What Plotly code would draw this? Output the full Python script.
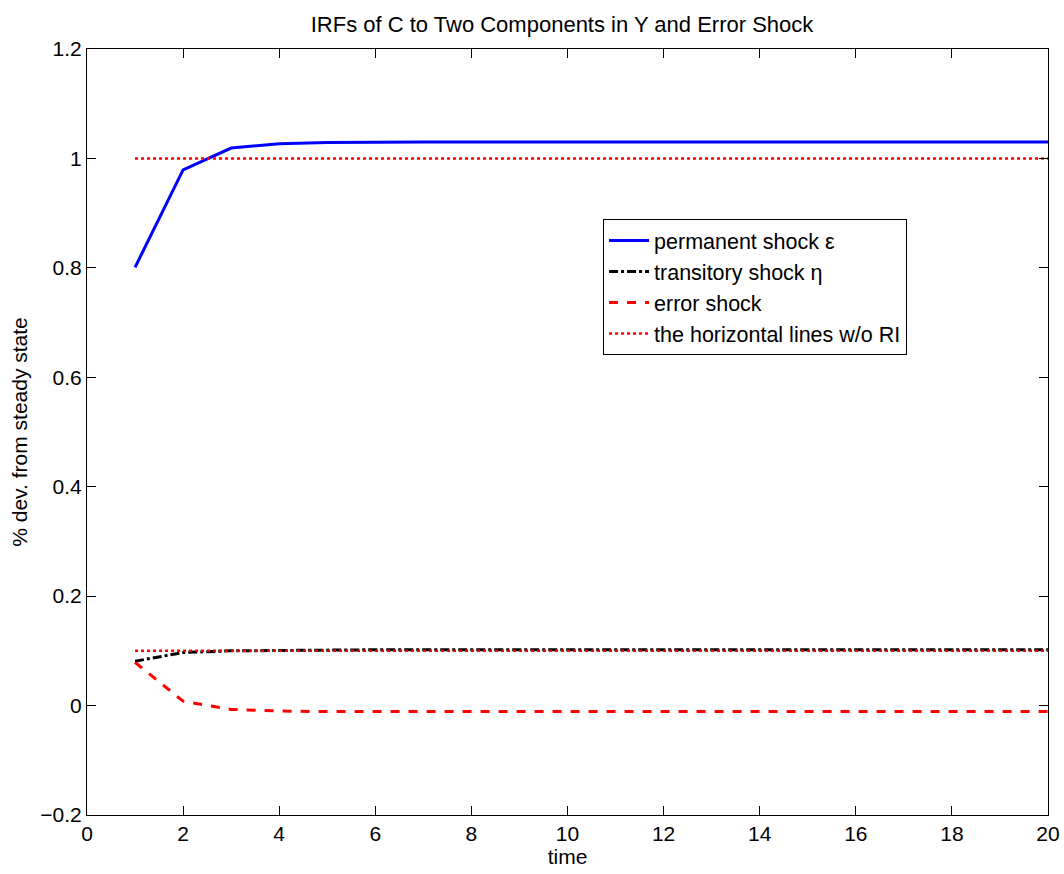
import plotly.graph_objects as go

time = list(range(1, 21))
permanent = [0.801, 0.979, 1.019, 1.027, 1.029, 1.030, 1.030, 1.030, 1.030, 1.030,
             1.030, 1.030, 1.030, 1.030, 1.030, 1.030, 1.030, 1.030, 1.030, 1.030]
transitory = [0.081, 0.097, 0.100, 0.101, 0.102, 0.102, 0.102, 0.102, 0.102, 0.102,
              0.102, 0.102, 0.102, 0.102, 0.102, 0.102, 0.102, 0.102, 0.102, 0.102]
error = [0.079, 0.008, -0.007, -0.010, -0.011, -0.011, -0.011, -0.011, -0.011, -0.011,
         -0.011, -0.011, -0.011, -0.011, -0.011, -0.011, -0.011, -0.011, -0.011, -0.011]
hline_perm = [1.0] * 20
hline_trans = [0.1] * 20

font = "Liberation Sans, Arial, Helvetica, sans-serif"

fig = go.Figure()
fig.add_trace(go.Scatter(x=time, y=permanent, mode="lines", name="permanent shock ε",
                         line=dict(color="#0000ff", width=3)))
fig.add_trace(go.Scatter(x=time, y=transitory, mode="lines", name="transitory shock η",
                         line=dict(color="black", width=3, dash="dashdot")))
fig.add_trace(go.Scatter(x=time, y=error, mode="lines", name="error shock",
                         line=dict(color="#ff0000", width=3, dash="dash")))
fig.add_trace(go.Scatter(x=time, y=hline_perm, mode="lines", name="the horizontal lines w/o RI",
                         line=dict(color="#ff0000", width=2.5, dash="dot")))
fig.add_trace(go.Scatter(x=time, y=hline_trans, mode="lines", name="the horizontal lines w/o RI",
                         showlegend=False,
                         line=dict(color="#ff0000", width=2.5, dash="dot")))

fig.update_layout(
    width=1064, height=874,
    paper_bgcolor="white", plot_bgcolor="white",
    margin=dict(l=87, r=16, t=49, b=59),
    font=dict(family=font, size=21, color="black"),
    title=dict(text="IRFs of C to Two Components in Y and Error Shock",
               x=0.5282, xanchor="center", y=1 - 24 / 874, yanchor="middle",
               font=dict(size=22)),
    xaxis=dict(range=[0, 20], dtick=2, tick0=0, showgrid=False, zeroline=False,
               showline=True, linecolor="black", linewidth=1, mirror="ticks",
               ticks="inside", ticklen=9, tickcolor="black", automargin=False,
               ticklabeloverflow="allow",
               title=dict(text="time", standoff=2, font=dict(size=21))),
    yaxis=dict(range=[-0.2, 1.2], dtick=0.2, tick0=-0.2, showgrid=False, zeroline=False,
               showline=True, linecolor="black", linewidth=1, mirror="ticks",
               ticks="inside", ticklen=9, tickcolor="black", automargin=False,
               title=dict(text="% dev. from steady state", standoff=6, font=dict(size=21))),
    legend=dict(x=0.537, y=0.778, xanchor="left", yanchor="top",
                bgcolor="white", bordercolor="black", borderwidth=1,
                font=dict(size=21.5), tracegroupgap=0, itemwidth=40),
    showlegend=True,
)

fig.write_html("out.html",
               config={"displayModeBar": False},
               post_script="document.body.style.margin='0';document.body.style.overflow='hidden';")
